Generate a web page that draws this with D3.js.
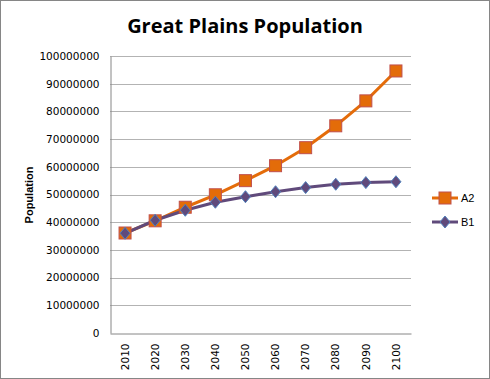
<!DOCTYPE html>
<html><head><meta charset="utf-8">
<script src="https://cdnjs.cloudflare.com/ajax/libs/d3/7.8.5/d3.min.js"></script>
<style>body{margin:0;background:#fff}svg{display:block}</style>
</head><body><div id="chart"></div>
<script>
const categories = ["2010","2020","2030","2040","2050","2060","2070","2080","2090","2100"];
const seriesA2 = [36100000,40500000,45400000,49900000,55000000,60400000,66900000,74800000,83800000,94600000];
const seriesB1 = [36000000,40700000,44300000,47200000,49200000,51000000,52500000,53700000,54300000,54600000];
const yTicks = [0,10000000,20000000,30000000,40000000,50000000,60000000,70000000,80000000,90000000,100000000];
const seriesNames = ["A2","B1"];

const W=490,H=379;
const svg=d3.select("#chart").append("svg").attr("width",W).attr("height",H);
svg.append("rect").attr("x",0.5).attr("y",0.5).attr("width",W-1).attr("height",H-1)
  .attr("fill","#fff").attr("stroke","#868686");

const L=110,R=411,T=56,B=333;
const x=d3.scaleBand().domain(categories).range([L,R]);
const y=d3.scaleLinear().domain([0,100000000]).range([B,T]);

// gridlines
svg.append("g").selectAll("line").data(yTicks.filter(d=>d>0)).join("line")
  .attr("x1",L).attr("x2",R).attr("y1",d=>Math.round(y(d))+0.5).attr("y2",d=>Math.round(y(d))+0.5)
  .attr("stroke","#b3b3b3").attr("stroke-width",1);

const yAxis=svg.append("g").attr("transform",`translate(${L+0.5},0)`)
  .call(d3.axisLeft(y).tickValues(yTicks).tickFormat(d3.format("d")).tickSize(0).tickPadding(11));
yAxis.select(".domain").attr("stroke","#868686");
yAxis.selectAll("text").attr("font-family","DejaVu Sans, Verdana, sans-serif").attr("font-size","10.5px").attr("fill","#000");

const xAxis=svg.append("g").attr("transform",`translate(0,${B+0.5})`)
  .call(d3.axisBottom(x).tickSize(0).tickPadding(0));
xAxis.select(".domain").attr("stroke","#868686");
xAxis.selectAll("text").attr("font-family","DejaVu Sans, Verdana, sans-serif").attr("font-size","10.5px").attr("fill","#000")
  .attr("transform","rotate(-90)").attr("text-anchor","end").attr("dy","0.35em").attr("x",-10).attr("y",0);

const cx=d=>x(d)+x.bandwidth()/2;
const line=d3.line().x((d,i)=>cx(categories[i])).y(d=>y(d));

const colA="#E46C0A", colB="#604A7B";
svg.append("path").datum(seriesA2).attr("d",line).attr("fill","none").attr("stroke",colA).attr("stroke-width",3);
svg.append("path").datum(seriesB1).attr("d",line).attr("fill","none").attr("stroke",colB).attr("stroke-width",3);

function square(g,px,py){g.append("rect").attr("x",px-6).attr("y",py-6).attr("width",12).attr("height",12)
  .attr("fill","#E36C09").attr("stroke","#C0504D").attr("stroke-width",1);}
function diamond(g,px,py){g.append("path").attr("d",`M${px},${py-6}L${px+5},${py}L${px},${py+6}L${px-5},${py}Z`)
  .attr("fill","#604A7B").attr("stroke","#4F81BD").attr("stroke-width",1);}

const mk=svg.append("g");
seriesA2.forEach((v,i)=>square(mk,cx(categories[i]),y(v)));
seriesB1.forEach((v,i)=>diamond(mk,cx(categories[i]),y(v)));

// title
svg.append("text").attr("x",245).attr("y",33).attr("text-anchor","middle")
  .attr("font-family","Open Sans, Liberation Sans, sans-serif").attr("font-weight","bold").attr("font-size","20px").text("Great Plains Population");

// y title
svg.append("text").attr("transform","translate(33,195) rotate(-90)").attr("text-anchor","middle")
  .attr("font-family","Liberation Sans, Arial, sans-serif").attr("font-weight","bold").attr("font-size","11px").text("Population");

// legend
const lg=svg.append("g");
const legY=[198,222];
lg.append("line").attr("x1",432).attr("x2",458).attr("y1",legY[0]).attr("y2",legY[0]).attr("stroke",colA).attr("stroke-width",3);
square(lg,445,legY[0]);
lg.append("line").attr("x1",432).attr("x2",458).attr("y1",legY[1]).attr("y2",legY[1]).attr("stroke",colB).attr("stroke-width",3);
diamond(lg,445,legY[1]);
seriesNames.forEach((n,i)=>lg.append("text").attr("x",461).attr("y",legY[i]+4).attr("font-family","Liberation Sans, Arial, sans-serif")
  .attr("font-size","11px").text(n));
</script></body></html>
